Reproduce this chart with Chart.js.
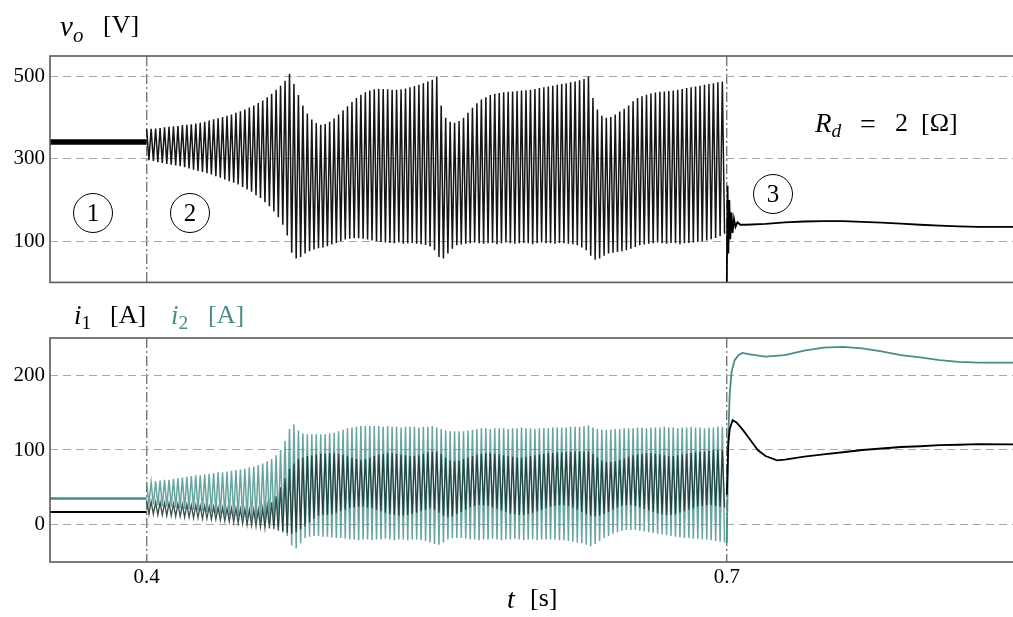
<!DOCTYPE html>
<html><head><meta charset="utf-8">
<script src="https://cdn.jsdelivr.net/npm/chart.js@4.4.0/dist/chart.umd.min.js"></script>
<style>
body{margin:0;background:#fff;}
#wrap{position:relative;width:1013px;height:617px;overflow:hidden;background:#fff;font-family:"Liberation Serif","DejaVu Serif",serif;color:#000;}
canvas{position:absolute;left:0;}
.p{position:absolute;white-space:nowrap;line-height:1;font-size:26px;}
.p sub{font-size:0.72em;vertical-align:-0.28em;}
.teal{color:rgb(74,140,136);}
.circ{position:absolute;width:40px;height:40px;border:1.3px solid #000;border-radius:50%;text-align:center;line-height:38px;font-size:25px;box-sizing:border-box;}
</style></head>
<body>
<div id="wrap">
<canvas id="c1" width="1013" height="300" style="top:0;width:1013px;height:300px"></canvas>
<canvas id="c2" width="1013" height="317" style="top:300px;width:1013px;height:317px"></canvas>
<div class="p" style="left:60px;top:12px;font-size:29px"><i>v</i><sub><i>o</i></sub></div>
<div class="p" style="left:103px;top:12px">[V]</div>
<div class="p" style="left:74px;top:302px;font-size:27px"><i>i</i><sub>1</sub></div>
<div class="p" style="left:110px;top:302px">[A]</div>
<div class="p teal" style="left:171px;top:302px;font-size:27px"><i>i</i><sub>2</sub></div>
<div class="p teal" style="left:208px;top:302px">[A]</div>
<div class="p" style="left:815px;top:110px;font-size:27px"><i>R</i><sub><i>d</i></sub></div>
<div class="p" style="left:860px;top:110px;font-size:28px">=</div>
<div class="p" style="left:895px;top:110px">2</div>
<div class="p" style="left:921px;top:110px">[Ω]</div>
<div class="p" style="left:507px;top:585px;font-size:28px"><i>t</i></div>
<div class="p" style="left:530px;top:585px">[s]</div>
<div class="circ" style="left:73px;top:193px">1</div>
<div class="circ" style="left:170px;top:193px">2</div>
<div class="circ" style="left:753px;top:174px">3</div>
</div>
<script>
// ---- data ----
const xMin = 0.35, xMax = 0.848;
const xTicks = [0.4, 0.7];
const voTicks = [100, 300, 500];
const iTicks = [0, 100, 200];
const cycleStart = 0.4, cycleEnd = 0.7, cycleCount = 130;

// region 1 (steady state) levels
const voPre = 341, i1Pre = 17, i2Pre = 35;

// region 2: per-cycle peak (hi) and trough (lo) values
const voHi = [372,373,374,375,377,378,379,380,382,383,
384,386,388,390,393,396,399,402,405,408,
412,416,420,425,430,436,442,450,458,468,
478,490,507,482,455,430,410,396,387,383,
385,390,398,408,418,428,438,448,456,462,
466,469,470,470,469,468,468,469,471,474,
477,480,484,488,492,500,430,400,390,388,
392,400,412,424,435,444,450,455,458,460,
462,463,464,465,466,467,468,470,472,474,
476,478,480,482,484,486,488,491,494,500,
448,420,405,400,402,408,415,422,430,440,
448,452,456,459,461,463,464,465,466,468,
470,472,474,476,478,480,482,484,486,488];
const voLo = [297,295,292,290,288,286,284,282,280,277,
274,271,268,265,262,258,254,250,246,242,
238,232,226,220,212,205,195,185,172,158,
140,114,72,58,62,70,76,80,83,85,
88,92,96,100,104,106,107,107,106,104,
102,100,98,97,96,95,97,94,95,96,
94,93,91,87,78,62,58,70,82,90,
92,94,95,97,95,94,95,96,93,95,
97,95,94,95,96,95,93,95,97,95,
95,94,96,95,94,93,90,85,78,65,
55,58,65,70,72,74,76,78,82,86,
90,92,94,95,97,95,94,96,95,93,
95,96,97,98,100,102,105,108,112,118];
const i2Hi = [56,57,58,59,60,60,61,62,63,64,
65,66,66,67,68,69,70,70,71,72,
73,74,75,77,78,80,82,85,88,93,
100,112,128,134,126,122,121,121,121,121,
121,122,123,125,127,129,130,131,132,132,
132,132,132,131,132,131,131,130,131,131,
131,130,131,131,132,130,128,126,125,125,
125,125,126,127,128,129,129,128,129,129,
129,128,129,129,130,129,129,128,129,129,
129,130,130,130,130,131,131,131,132,133,
130,128,127,127,127,128,128,129,129,129,
130,130,129,130,130,130,131,130,130,129,
130,130,131,130,130,129,130,130,131,131];
const i2Lo = [28,27,26,25,24,24,23,22,21,21,
20,19,18,17,16,15,14,13,12,11,
11,10,9,8,7,5,3,1,0,-3,
-8,-15,-28,-32,-25,-18,-16,-15,-15,-16,
-16,-17,-18,-18,-19,-20,-20,-21,-20,-20,
-21,-20,-20,-19,-20,-21,-20,-20,-21,-20,
-20,-21,-22,-24,-26,-27,-24,-20,-18,-18,
-18,-19,-20,-20,-21,-20,-20,-19,-20,-21,
-20,-20,-19,-20,-21,-20,-20,-21,-20,-20,
-20,-20,-21,-21,-22,-23,-24,-25,-27,-29,
-26,-22,-18,-15,-12,-10,-8,-7,-7,-7,
-8,-9,-10,-11,-12,-13,-14,-15,-16,-17,
-18,-18,-19,-19,-20,-20,-21,-22,-23,-24];
const i1Hi = [31,31,30,30,29,29,28,28,27,27,
26,26,25,25,24,24,23,23,22,22,
22,21,21,20,20,20,22,25,30,38,
50,62,75,82,88,90,92,93,94,95,
95,96,96,95,94,92,90,88,87,88,
90,92,94,95,96,96,95,94,93,92,
92,93,95,97,98,98,95,90,86,85,
86,88,90,92,94,95,96,96,95,94,
93,92,91,90,90,91,92,93,94,95,
96,96,97,97,97,98,98,98,98,98,
95,90,86,84,84,85,87,89,91,93,
94,95,96,96,95,94,93,92,92,93,
94,95,96,97,98,98,99,100,100,100];
const i1Lo = [14,14,13,13,12,12,11,11,10,10,
9,9,8,8,7,7,6,5,4,3,
2,1,0,-1,-2,-3,-4,-5,-6,-8,
-10,-11,-12,-10,-6,-2,3,8,12,13,
13,14,16,18,20,22,23,24,24,23,
22,20,18,16,14,13,12,12,13,14,
16,18,20,22,20,16,12,10,11,14,
17,20,23,25,26,26,25,23,21,19,
17,15,14,13,13,14,16,18,20,22,
24,25,26,26,25,23,20,17,14,12,
11,12,14,17,20,23,25,26,26,25,
23,21,19,17,15,14,13,13,14,16,
18,20,22,24,25,26,26,25,24,23];

// region 3 (after 0.7 s)
const voPostT = [0.7,0.7004,0.7008,0.7013,0.7018,0.7024,0.703,0.7037,0.7045,0.7055,0.707,0.71,0.72,0.73,0.74,0.75,0.76,0.77,0.78,0.79,0.80,0.81,0.82,0.83,0.848];
const voPost  = [0,235,70,200,105,170,120,155,135,146,140,140,142,146,148,149,149,147,145,143,140,138,136,135,135];
const i2PostT = [0.7,0.7008,0.7015,0.7025,0.704,0.706,0.708,0.712,0.72,0.73,0.74,0.75,0.76,0.77,0.78,0.79,0.80,0.81,0.82,0.83,0.848];
const i2Post  = [-24,120,175,205,220,227,230,228,225,227,233,237,238,236,232,227,224,220.5,218,217,217];
const i1PostT = [0.7,0.7008,0.7015,0.703,0.705,0.708,0.712,0.716,0.72,0.726,0.73,0.74,0.75,0.76,0.77,0.78,0.79,0.80,0.81,0.82,0.83,0.848];
const i1Post  = [40,110,128,140,137,128,114,100,92,86,87,91,94,97,100,102,104,105,106.5,107,108,107.5];

// ---- build series ----
const P = (cycleEnd - cycleStart) / cycleCount;
function osc(hi, lo) {
  const pts = [];
  for (let k = 0; k < hi.length; k++) {
    const t = cycleStart + k * P;
    pts.push({x: t, y: hi[k]});
    pts.push({x: t + P / 2, y: lo[k]});
  }
  return pts;
}
function pairs(ts, vs) { return ts.map((t, i) => ({x: t, y: vs[i]})); }
function flat(v) { return [{x: xMin, y: v}, {x: cycleStart, y: v}]; }

const TEAL = 'rgb(74,140,136)';
const TEAL_A = 'rgba(84,152,147,0.88)';
const serif = "'Liberation Serif','DejaVu Serif',serif";

const framePlugin = {
  id: 'frame',
  afterDraw(chart) {
    const {ctx, chartArea: a} = chart;
    ctx.save();
    ctx.strokeStyle = '#5a5a5a';
    ctx.lineWidth = 1.6;
    ctx.strokeRect(a.left, a.top, a.right - a.left + 4, a.bottom - a.top);
    ctx.restore();
  }
};

function ds(data, color, w) {
  return {data, borderColor: color, borderWidth: w, pointRadius: 0, tension: 0, fill: false};
}

function xScale(showTicks) {
  return {
    type: 'linear', min: xMin, max: xMax,
    afterBuildTicks: s => { s.ticks = xTicks.map(v => ({value: v})); },
    afterFit: s => { s.height = showTicks ? 55 : 0; },
    ticks: {display: showTicks, color: '#000', font: {family: serif, size: 21}, padding: 3,
            callback: v => v.toFixed(1), maxRotation: 0, autoSkip: false},
    grid: {color: '#777', lineWidth: 1.4, drawTicks: false},
    border: {display: false, dash: [10, 3, 2, 3]}
  };
}
function yScale(min, max, ticks) {
  return {
    min, max,
    afterBuildTicks: s => { s.ticks = ticks.map(v => ({value: v})); },
    afterFit: s => { s.width = 50; },
    ticks: {color: '#000', font: {family: serif, size: 21}, padding: 5},
    grid: {color: '#a8a8a8', lineWidth: 1.1, drawTicks: false},
    border: {display: false, dash: [8, 5]}
  };
}
const common = {
  responsive: false, animation: false, devicePixelRatio: 1,
  plugins: {legend: {display: false}, tooltip: {enabled: false}},
  elements: {line: {borderJoinStyle: 'miter', borderCapStyle: 'butt'}}
};

new Chart(document.getElementById('c1'), {
  type: 'line',
  data: {datasets: [
    ds(flat(voPre), '#000', 5.5),
    ds(osc(voHi, voLo), '#151515', 1.5),
    ds(pairs(voPostT, voPost), '#000', 1.8)
  ]},
  options: Object.assign({}, common, {
    layout: {padding: {top: 56, bottom: 13, left: 0, right: 0}},
    scales: {x: xScale(false), y: yScale(0, 550, voTicks)}
  }),
  plugins: [framePlugin]
});

new Chart(document.getElementById('c2'), {
  type: 'line',
  data: {datasets: [
    ds(flat(i1Pre), '#000', 2),
    ds(flat(i2Pre), TEAL, 2.5),
    ds(osc(i1Hi, i1Lo), 'rgba(25,50,48,0.85)', 1.3),
    ds(osc(i2Hi, i2Lo), TEAL_A, 1.5),
    ds(pairs(i1PostT, i1Post), '#000', 1.8),
    ds(pairs(i2PostT, i2Post), TEAL, 1.8)
  ]},
  options: Object.assign({}, common, {
    layout: {padding: {top: 38, bottom: 0, left: 0, right: 0}},
    scales: {x: xScale(true), y: yScale(-50, 250, iTicks)}
  }),
  plugins: [framePlugin]
});
</script>
</body></html>
